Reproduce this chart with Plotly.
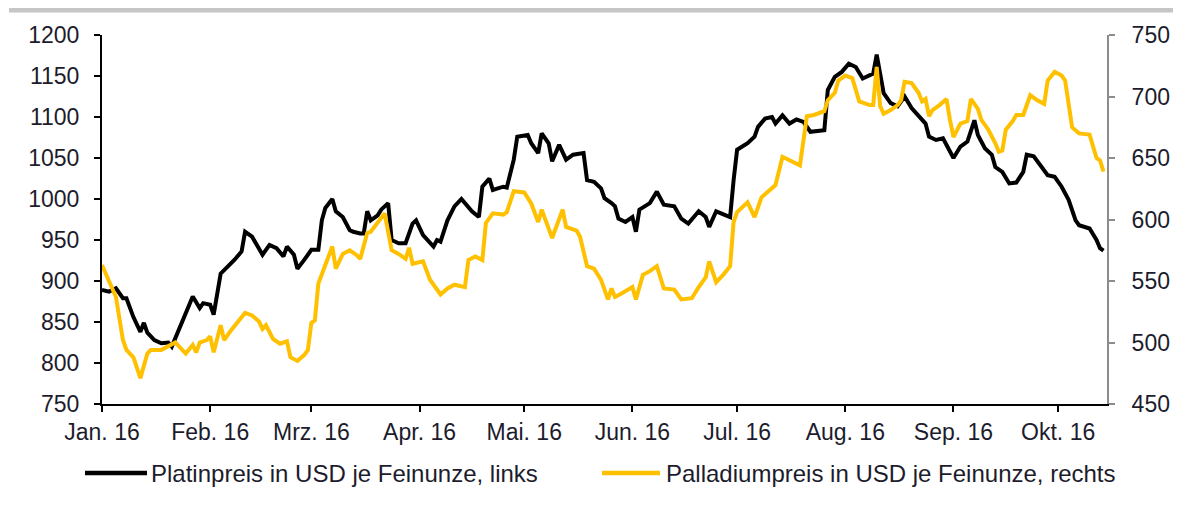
import plotly.graph_objects as go

# ---------------- data ----------------
plat_dates = [
    "01-01", "01-03", "01-05", "01-07", "01-08", "01-10", "01-12", "01-13", "01-14", "01-16",
    "01-18", "01-20", "01-21", "01-22", "01-24", "01-26", "01-27", "01-29", "01-30", "02-01",
    "02-02", "02-04", "02-06", "02-08", "02-10", "02-11", "02-13", "02-15", "02-16", "02-18",
    "02-20", "02-22", "02-23", "02-25", "02-26", "02-28", "03-01", "03-03", "03-04", "03-05",
    "03-07", "03-08", "03-10", "03-12", "03-13", "03-15", "03-16", "03-17", "03-18", "03-20",
    "03-21", "03-23", "03-24", "03-26", "03-28", "03-30", "03-31", "04-02", "04-05", "04-06",
    "04-07", "04-09", "04-11", "04-13", "04-14", "04-16", "04-18", "04-19", "04-21", "04-22",
    "04-25", "04-26", "04-28", "04-29", "05-02", "05-03", "05-05", "05-06", "05-08", "05-09",
    "05-11", "05-13", "05-15", "05-18", "05-19", "05-21", "05-23", "05-24", "05-26", "05-27",
    "05-28", "05-30", "06-01", "06-02", "06-03", "06-06", "06-08", "06-10", "06-13", "06-15",
    "06-17", "06-20", "06-22", "06-23", "06-25", "06-29", "06-30", "07-01", "07-04", "07-06",
    "07-07", "07-09", "07-11", "07-12", "07-14", "07-16", "07-18", "07-20", "07-22", "07-26",
    "07-27", "07-29", "07-31", "08-02", "08-04", "08-06", "08-09", "08-10", "08-12", "08-14",
    "08-16", "08-18", "08-20", "08-22", "08-24", "08-25", "08-27", "08-29", "08-31", "09-01",
    "09-03", "09-05", "09-07", "09-08", "09-10", "09-12", "09-13", "09-15", "09-17", "09-19",
    "09-21", "09-22", "09-24", "09-26", "09-28", "09-30", "10-02", "10-04", "10-06", "10-07",
    "10-10", "10-12", "10-13", "10-14",
]
plat_values = [
    889, 887, 891, 879, 879, 856, 838, 849, 837, 828,
    824, 825, 820, 830, 852, 873, 881, 867, 873, 871,
    859, 909, 917, 926, 936, 960, 954, 940, 932, 944,
    940, 930, 942, 932, 915, 926, 938, 938, 974, 989,
    1000, 985, 978, 962, 960, 958, 958, 985, 974, 980,
    987, 995, 950, 946, 946, 970, 974, 956, 942, 950,
    948, 974, 991, 1000, 995, 985, 978, 1015, 1025, 1011,
    1015, 1014, 1048, 1076, 1078, 1068, 1056, 1080, 1068, 1046,
    1066, 1048, 1054, 1056, 1023, 1021, 1013, 1001, 995, 991,
    976, 972, 978, 960, 987, 995, 1009, 993, 991, 976,
    970, 985, 978, 966, 985, 978, 1023, 1060, 1068, 1076,
    1088, 1098, 1100, 1092, 1102, 1092, 1097, 1094, 1082, 1084,
    1133, 1149, 1155, 1165, 1161, 1147, 1153, 1176, 1129, 1117,
    1113, 1125, 1111, 1102, 1092, 1076, 1072, 1074, 1058, 1050,
    1064, 1070, 1096, 1078, 1062, 1054, 1039, 1033, 1019, 1020,
    1033, 1054, 1052, 1041, 1029, 1027, 1015, 999, 974, 968,
    964, 950, 940, 937,
]

pall_dates = [
    "01-01", "01-03", "01-05", "01-07", "01-08", "01-10", "01-11", "01-12", "01-14", "01-15",
    "01-18", "01-20", "01-22", "01-24", "01-25", "01-27", "01-28", "01-29", "01-31", "02-01",
    "02-02", "02-04", "02-05", "02-07", "02-09", "02-11", "02-13", "02-15", "02-16", "02-17",
    "02-19", "02-21", "02-23", "02-24", "02-26", "02-28", "02-29", "03-01", "03-02", "03-03",
    "03-05", "03-07", "03-08", "03-10", "03-12", "03-14", "03-15", "03-17", "03-18", "03-20",
    "03-22", "03-24", "03-26", "03-28", "03-29", "03-30", "04-02", "04-04", "04-07", "04-09",
    "04-11", "04-14", "04-15", "04-17", "04-19", "04-20", "04-22", "04-25", "04-26", "04-28",
    "05-01", "05-03", "05-05", "05-06", "05-09", "05-12", "05-13", "05-16", "05-17", "05-19",
    "05-21", "05-23", "05-25", "05-26", "05-27", "05-29", "06-01", "06-02", "06-04", "06-06",
    "06-08", "06-10", "06-13", "06-15", "06-18", "06-20", "06-22", "06-23", "06-25", "06-27",
    "06-29", "06-30", "07-01", "07-04", "07-06", "07-08", "07-10", "07-12", "07-14", "07-16",
    "07-19", "07-21", "07-23", "07-26", "07-27", "07-29", "07-30", "08-01", "08-03", "08-05",
    "08-08", "08-09", "08-10", "08-11", "08-12", "08-14", "08-16", "08-17", "08-18", "08-20",
    "08-22", "08-23", "08-24", "08-25", "08-26", "08-28", "08-30", "08-31", "09-01", "09-03",
    "09-05", "09-06", "09-08", "09-09", "09-11", "09-13", "09-14", "09-15", "09-16", "09-18",
    "09-19", "09-21", "09-22", "09-23", "09-25", "09-27", "09-28", "09-30", "10-02", "10-03",
    "10-05", "10-07", "10-10", "10-12", "10-13", "10-14",
]
pall_values = [
    563, 549, 537, 502, 494, 488, 480, 471, 491, 494,
    494, 497, 500, 494, 491, 498, 492, 500, 502, 505,
    492, 514, 502, 510, 517, 524, 522, 517, 511, 514,
    503, 499, 501, 488, 485, 490, 494, 516, 518, 548,
    563, 578, 560, 572, 575, 571, 568, 589, 590, 598,
    605, 575, 572, 568, 577, 564, 566, 551, 539, 544,
    547, 545, 567, 570, 567, 597, 605, 604, 606, 623,
    622, 613, 598, 608, 585, 608, 594, 591, 586, 562,
    560, 551, 535, 544, 537, 540, 545, 535, 555, 558,
    562, 544, 543, 535, 536, 545, 553, 566, 549, 555,
    562, 598, 606, 614, 602, 618, 623, 628, 651, 648,
    644, 684, 685, 688, 697, 703, 713, 717, 715, 696,
    693, 693, 724, 692, 686, 689, 693, 697, 712, 711,
    703, 696, 698, 684, 689, 693, 698, 681, 667, 678,
    680, 698, 690, 681, 673, 662, 655, 656, 673, 680,
    685, 685, 693, 701, 697, 694, 713, 720, 717, 713,
    675, 670, 669, 650, 648, 639,
]

month_ticks = ["2016-01-01", "2016-02-01", "2016-03-01", "2016-04-01", "2016-05-01",
               "2016-06-01", "2016-07-01", "2016-08-01", "2016-09-01", "2016-10-01"]
month_labels = ["Jan. 16", "Feb. 16", "Mrz. 16", "Apr. 16", "Mai. 16",
                "Jun. 16", "Jul. 16", "Aug. 16", "Sep. 16", "Okt. 16"]

plat_name = "Platinpreis in USD je Feinunze, links"
pall_name = "Palladiumpreis in USD je Feinunze, rechts"

# ---------------- styles ----------------
FONT = "Liberation Sans, Arial, sans-serif"
TXT = "#1c1c2c"
BLACK = "#000000"
GOLD = "#FFC000"
GREY_AX = "#8c8c8c"

fig = go.Figure()
fig.add_trace(go.Scatter(
    x=["2016-" + d for d in plat_dates], y=plat_values, mode="lines",
    name=plat_name, line=dict(color=BLACK, width=4), showlegend=False,
))
fig.add_trace(go.Scatter(
    x=["2016-" + d for d in pall_dates], y=pall_values, mode="lines",
    name=pall_name, yaxis="y2", line=dict(color=GOLD, width=4), showlegend=False,
))

# page body has an 8px margin, so the figure is sized to fit the window
OFF = 8
W, H = 1181 - OFF, 506 - OFF
PL, PR, PT, PB = 102, 1107, 35, 404  # plot area in window pixels
L, T = PL - OFF, PT - OFF
R = W - (PR - OFF)
B = H - (PB - OFF)
pw, ph = PR - PL, PB - PT


def px(xp):
    return (xp - PL) / pw


def py(yp):
    return (PB - yp) / ph


shapes = [
    # top grey bar
    dict(type="rect", xref="paper", yref="paper", x0=px(9), x1=px(1175),
         y0=py(12.5), y1=py(5), fillcolor="#c6c6c6", line=dict(width=0), layer="above"),
    # legend samples
    dict(type="line", xref="paper", yref="paper", x0=px(85), x1=px(147),
         y0=py(473), y1=py(473), line=dict(color=BLACK, width=4.5)),
    dict(type="line", xref="paper", yref="paper", x0=px(602), x1=px(660),
         y0=py(473), y1=py(473), line=dict(color=GOLD, width=4.5)),
]
annotations = [
    dict(xref="paper", yref="paper", x=px(149), y=py(473), xanchor="left", yanchor="middle",
         text=plat_name, showarrow=False, font=dict(family=FONT, size=24, color=TXT)),
    dict(xref="paper", yref="paper", x=px(664), y=py(473), xanchor="left", yanchor="middle",
         text=pall_name, showarrow=False, font=dict(family=FONT, size=24, color=TXT)),
]

tickfont = dict(family=FONT, size=23, color=TXT)

fig.update_layout(
    width=W, height=H,
    margin=dict(l=L, r=R, t=T, b=B, pad=0),
    paper_bgcolor="white", plot_bgcolor="white",
    showlegend=False,
    shapes=shapes, annotations=annotations,
    xaxis=dict(
        type="date", range=["2016-01-01", "2016-10-15"],
        tickmode="array", tickvals=month_ticks, ticktext=month_labels,
        ticks="outside", ticklen=6, tickwidth=2, tickcolor=BLACK,
        showline=True, linecolor=BLACK, linewidth=2,
        showgrid=False, zeroline=False, tickfont=tickfont,
    ),
    yaxis=dict(
        range=[750, 1200], tick0=750, dtick=50,
        ticks="outside", ticklen=6, tickwidth=2, tickcolor=BLACK,
        showline=True, linecolor=BLACK, linewidth=2,
        showgrid=False, zeroline=False, tickfont=tickfont,
        ticklabelstandoff=10,
    ),
    yaxis2=dict(
        overlaying="y", side="right", anchor="x",
        range=[450, 750], tick0=450, dtick=50,
        ticks="outside", ticklen=6, tickwidth=2, tickcolor=GREY_AX,
        showline=True, linecolor=GREY_AX, linewidth=2,
        showgrid=False, zeroline=False, tickfont=tickfont,
        ticklabelstandoff=12,
    ),
)

fig.write_html("out.html", config={"displayModeBar": False})
